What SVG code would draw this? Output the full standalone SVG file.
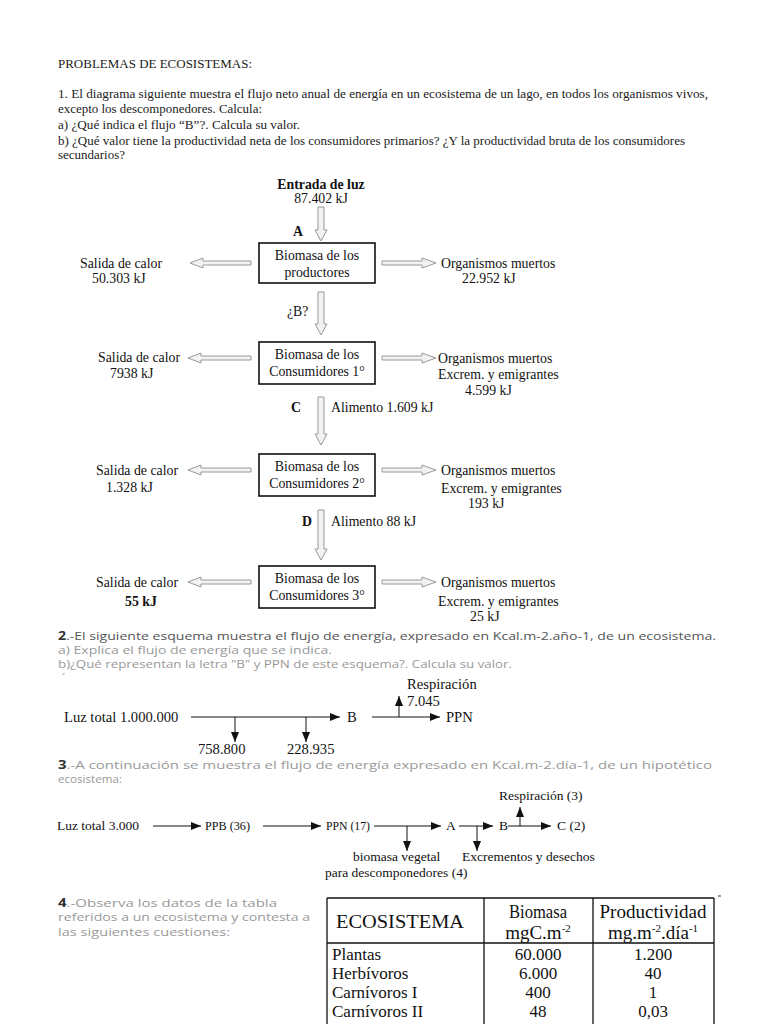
<svg xmlns="http://www.w3.org/2000/svg" width="768" height="1024" viewBox="0 0 768 1024">
<style>
.t{font-family:"Liberation Serif","Times New Roman",serif;font-size:12px;fill:#222}
.d{font-family:"Liberation Serif","Times New Roman",serif;font-size:13.8px;fill:#111}
.d2{font-family:"Liberation Serif","Times New Roman",serif;font-size:14.6px;fill:#111}
.d3{font-family:"Liberation Serif","Times New Roman",serif;font-size:13.5px;fill:#111}
.s{font-family:"Open Sans","DejaVu Sans",sans-serif;font-size:11.5px;fill:#999}
.sd{fill:#333}
.tb{font-family:"Liberation Serif","Times New Roman",serif;font-size:17px;fill:#111}
.th{font-family:"Liberation Serif","Times New Roman",serif;font-size:19px;fill:#111}
.box{fill:#fff;stroke:#111;stroke-width:1.6}
.blk{fill:#f2f2f2;stroke:#999;stroke-width:1}
.ln{stroke:#111;stroke-width:1;fill:none}
.c{text-anchor:middle}
.b{font-weight:bold}
</style>
<defs>
<marker id="ah" viewBox="0 0 10 8" refX="10" refY="4" markerWidth="10" markerHeight="8" markerUnits="userSpaceOnUse" orient="auto">
<path d="M0,0 L10,4 L0,8 Z" fill="#111"/>
</marker>
</defs>
<rect width="768" height="1024" fill="#fff"/>

<g id="header">
<text class="t" x="58" y="68" textLength="194" lengthAdjust="spacingAndGlyphs">PROBLEMAS DE ECOSISTEMAS:</text>
<text class="t" x="58" y="98" textLength="650" lengthAdjust="spacingAndGlyphs">1. El diagrama siguiente muestra el flujo neto anual de energía en un ecosistema de un lago, en todos los organismos vivos,</text>
<text class="t" x="58" y="113" textLength="204" lengthAdjust="spacingAndGlyphs">excepto los descomponedores. Calcula:</text>
<text class="t" x="58" y="129" textLength="242" lengthAdjust="spacingAndGlyphs">a) ¿Qué indica el flujo “B”?. Calcula su valor.</text>
<text class="t" x="58" y="145" textLength="627" lengthAdjust="spacingAndGlyphs">b) ¿Qué valor tiene la productividad neta de los consumidores primarios? ¿Y la  productividad bruta de los consumidores</text>
<text class="t" x="58" y="159" textLength="67" lengthAdjust="spacingAndGlyphs">secundarios?</text>
</g>

<g id="diagram1-connectors">
<path class="blk" d="M318,207 V230 H315 L321,241 L327,230 H324 V207 Z"/>
<path class="blk" d="M318,292 V324 H315 L321,335 L327,324 H324 V292 Z"/>
<path class="blk" d="M318,397 V434 H315 L321,445 L327,434 H324 V397 Z"/>
<path class="blk" d="M318,510 V549 H315 L321,560 L327,549 H324 V510 Z"/>
<path class="blk" d="M251,261 H203 V258 L190,263 L203,268 V265 H251 Z"/>
<path class="blk" d="M251,356 H201 V353 L188,358 L201,363 V360 H251 Z"/>
<path class="blk" d="M251,468 H201 V465 L188,470 L201,475 V472 H251 Z"/>
<path class="blk" d="M251,580 H201 V577 L188,582 L201,587 V584 H251 Z"/>
<path class="blk" d="M382,261 H422 V258 L436,263 L422,268 V265 H382 Z"/>
<path class="blk" d="M382,356 H422 V353 L436,358 L422,363 V360 H382 Z"/>
<path class="blk" d="M382,468 H422 V465 L436,470 L422,475 V472 H382 Z"/>
<path class="blk" d="M382,580 H422 V577 L436,582 L422,587 V584 H382 Z"/>
</g>

<g id="entrada">
<text class="d c b" x="321" y="189">Entrada de luz</text>
<text class="d c" x="321" y="203">87.402 kJ</text>
<text class="d b" x="293" y="236">A</text>
</g>
<g id="productores">
<rect class="box" x="259" y="243" width="116" height="40"/>
<text class="d c" x="317" y="260">Biomasa de los</text>
<text class="d c" x="317" y="277">productores</text>
</g>
<g id="calor1">
<text class="d" x="80" y="268">Salida de calor</text>
<text class="d" x="92" y="283">50.303 kJ</text>
</g>
<g id="muertos1">
<text class="d" x="441" y="268">Organismos muertos</text>
<text class="d" x="462" y="283">22.952 kJ</text>
</g>
<text class="d" x="287" y="316">¿B?</text>
<g id="consumidores1">
<rect class="box" x="259" y="342" width="116" height="42"/>
<text class="d c" x="317" y="359">Biomasa de los</text>
<text class="d c" x="317" y="376">Consumidores 1°</text>
</g>
<g id="calor2">
<text class="d" x="98" y="362">Salida de calor</text>
<text class="d" x="110" y="378">7938 kJ</text>
</g>
<g id="muertos2">
<text class="d" x="438" y="363">Organismos muertos</text>
<text class="d" x="438" y="379">Excrem. y emigrantes</text>
<text class="d" x="465" y="395">4.599 kJ</text>
</g>
<text class="d b" x="291" y="412">C</text>
<text class="d" x="331" y="412">Alimento 1.609 kJ</text>
<g id="consumidores2">
<rect class="box" x="259" y="454" width="116" height="42"/>
<text class="d c" x="317" y="471">Biomasa de los</text>
<text class="d c" x="317" y="488">Consumidores 2°</text>
</g>
<g id="calor3">
<text class="d" x="96" y="475">Salida de calor</text>
<text class="d" x="106" y="492">1.328 kJ</text>
</g>
<g id="muertos3">
<text class="d" x="441" y="475">Organismos muertos</text>
<text class="d" x="441" y="493">Excrem. y emigrantes</text>
<text class="d" x="468" y="508">193 kJ</text>
</g>
<text class="d b" x="302" y="526">D</text>
<text class="d" x="331" y="526">Alimento 88 kJ</text>
<g id="consumidores3">
<rect class="box" x="259" y="566" width="116" height="42"/>
<text class="d c" x="317" y="583">Biomasa de los</text>
<text class="d c" x="317" y="600">Consumidores 3°</text>
</g>
<g id="calor4">
<text class="d" x="96" y="587">Salida de calor</text>
<text class="d b" x="125" y="606">55 kJ</text>
</g>
<g id="muertos4">
<text class="d" x="441" y="587">Organismos muertos</text>
<text class="d" x="438" y="606">Excrem. y emigrantes</text>
<text class="d" x="470" y="621">25 kJ</text>
</g>

<g id="section2-text">
<text class="s" x="58" y="640" textLength="658" lengthAdjust="spacingAndGlyphs"><tspan class="sd" font-weight="bold">2</tspan><tspan fill="#555">.-El siguiente esquema muestra el flujo de energía, expresado en Kcal.m-2.año-1, de un ecosistema.</tspan></text>
<text class="s" x="58" y="654" textLength="274" lengthAdjust="spacingAndGlyphs">a) Explica el flujo de energía que se indica.</text>
<text class="s" x="58" y="668" textLength="454" lengthAdjust="spacingAndGlyphs">b)¿Qué representan la letra "B" y PPN de este esquema?. Calcula su valor.</text>
<text class="s" x="62" y="682" font-size="9">´</text>
</g>

<g id="diagram2-connectors">
<line class="ln" x1="191" y1="717" x2="340" y2="717" marker-end="url(#ah)"/>
<line class="ln" x1="235" y1="717" x2="235" y2="742" marker-end="url(#ah)"/>
<line class="ln" x1="306" y1="717" x2="306" y2="742" marker-end="url(#ah)"/>
<line class="ln" x1="372" y1="717" x2="440" y2="717" marker-end="url(#ah)"/>
<line class="ln" x1="399" y1="717" x2="399" y2="696" marker-end="url(#ah)"/>
</g>
<g id="diagram2-nodes">
<text class="d2" x="64" y="722">Luz total 1.000.000</text>
<text class="d2" x="347" y="722">B</text>
<text class="d2" x="446" y="722">PPN</text>
<text class="d2" x="407" y="689">Respiración</text>
<text class="d2" x="407" y="706">7.045</text>
<text class="d2" x="198" y="754">758.800</text>
<text class="d2" x="287" y="754">228.935</text>
</g>

<g id="section3-text">
<text class="s" x="58" y="769" textLength="654" lengthAdjust="spacingAndGlyphs"><tspan class="sd" font-weight="bold">3</tspan>.-A continuación se muestra el flujo de energía expresado en Kcal.m-2.día-1, de un hipotético</text>
<text class="s" x="58" y="783" textLength="64" lengthAdjust="spacingAndGlyphs">ecosistema:</text>
</g>

<g id="diagram3-connectors">
<line class="ln" x1="153" y1="826" x2="201" y2="826" marker-end="url(#ah)"/>
<line class="ln" x1="263" y1="826" x2="321" y2="826" marker-end="url(#ah)"/>
<line class="ln" x1="374" y1="826" x2="441" y2="826" marker-end="url(#ah)"/>
<line class="ln" x1="407" y1="826" x2="407" y2="851" marker-end="url(#ah)"/>
<line class="ln" x1="459" y1="826" x2="493" y2="826" marker-end="url(#ah)"/>
<line class="ln" x1="477" y1="826" x2="477" y2="851" marker-end="url(#ah)"/>
<line class="ln" x1="508" y1="826" x2="551" y2="826" marker-end="url(#ah)"/>
<line class="ln" x1="520" y1="826" x2="520" y2="807" marker-end="url(#ah)"/>
</g>
<g id="diagram3-nodes">
<text class="d3" x="57" y="830">Luz total 3.000</text>
<text class="d3" x="205" y="830" textLength="45" lengthAdjust="spacingAndGlyphs">PPB (36)</text>
<text class="d3" x="326" y="830" textLength="44" lengthAdjust="spacingAndGlyphs">PPN (17)</text>
<text class="d3" x="446" y="830">A</text>
<text class="d3" x="499" y="830">B</text>
<text class="d3" x="557" y="830">C (2)</text>
<text class="d3" x="499" y="800">Respiración (3)</text>
<text class="d3" x="353" y="861">biomasa vegetal</text>
<text class="d3" x="325" y="877">para descomponedores (4)</text>
<text class="d3" x="462" y="861">Excrementos y desechos</text>
</g>

<g id="section4-text">
<text class="s" x="58" y="907" textLength="219" lengthAdjust="spacingAndGlyphs"><tspan class="sd" font-weight="bold">4</tspan>.-Observa los datos de la tabla</text>
<text class="s" x="58" y="921" textLength="252" lengthAdjust="spacingAndGlyphs">referidos a un ecosistema y contesta a</text>
<text class="s" x="58" y="936" textLength="172" lengthAdjust="spacingAndGlyphs">las siguientes cuestiones:</text>
</g>

<g id="table">
<path d="M327,898 H714 M327,943 H714 M327,898 V1024 M484,898 V1024 M593,898 V1024 M714,898 V1024" stroke="#111" stroke-width="1.3" fill="none"/>
<path d="M718,896 H721" stroke="#333" stroke-width="1"/>
<text class="th c" x="400" y="928" textLength="128" lengthAdjust="spacingAndGlyphs">ECOSISTEMA</text>
<text class="th c" x="538" y="918" textLength="58" lengthAdjust="spacingAndGlyphs">Biomasa</text>
<text class="th c" x="538" y="939">mgC.m<tspan dy="-7" font-size="11">-2</tspan></text>
<text class="th c" x="653" y="918" textLength="107" lengthAdjust="spacingAndGlyphs">Productividad</text>
<text class="th c" x="653" y="939">mg.m<tspan dy="-7" font-size="11">-2</tspan><tspan dy="7">.día</tspan><tspan dy="-7" font-size="11">-1</tspan></text>
<text class="tb" x="332" y="960">Plantas</text>
<text class="tb c" x="538" y="960">60.000</text>
<text class="tb c" x="653" y="960">1.200</text>
<text class="tb" x="332" y="979">Herbívoros</text>
<text class="tb c" x="538" y="979">6.000</text>
<text class="tb c" x="653" y="979">40</text>
<text class="tb" x="332" y="998">Carnívoros I</text>
<text class="tb c" x="538" y="998">400</text>
<text class="tb c" x="653" y="998">1</text>
<text class="tb" x="332" y="1017">Carnívoros II</text>
<text class="tb c" x="538" y="1017">48</text>
<text class="tb c" x="653" y="1017">0,03</text>
</g>
</svg>
